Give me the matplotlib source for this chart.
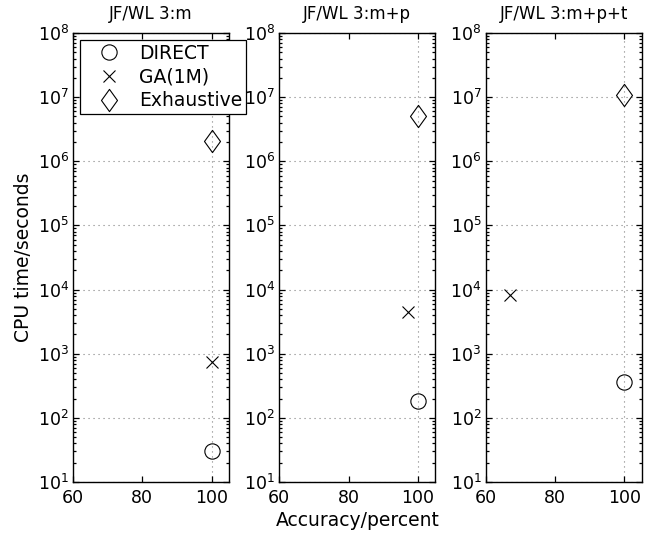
import numpy as np
import matplotlib
matplotlib.use('Agg')
import matplotlib.pyplot as plt
from matplotlib.path import Path
from matplotlib.ticker import NullFormatter, FixedLocator

plt.rcParams['font.family'] = ['DejaVu Sans']
plt.rcParams['mathtext.fontset'] = 'dejavusans'

# datos
titulos = ['JF/WL 3:m', 'JF/WL 3:m+p', 'JF/WL 3:m+p+t']
metodos = ['DIRECT', 'GA(1M)', 'Exhaustive']
precision = {
    'DIRECT':     [100, 100, 100],
    'GA(1M)':     [100, 97, 67],
    'Exhaustive': [100, 100, 100],
}
tiempo = {
    'DIRECT':     [30, 181, 360],
    'GA(1M)':     [730, 4400, 8100],
    'Exhaustive': [2.1e6, 5.0e6, 1.08e7],
}

# rombo alto estilo MATLAB
rombo = Path([(0, 1), (0.72, 0), (0, -1), (-0.72, 0), (0, 1)],
             [Path.MOVETO, Path.LINETO, Path.LINETO, Path.LINETO, Path.CLOSEPOLY])
estilos = {
    'DIRECT':     dict(marker='o', markersize=11),
    'GA(1M)':     dict(marker='x', markersize=8.5),
    'Exhaustive': dict(marker=rombo, markersize=16),
}

W, H = 663, 536
fig = plt.figure(figsize=(W / 100, H / 100), dpi=100)

izq = [73, 279.3, 485.7]
ancho = 156
arriba, abajo = 33, 482

decadas = [10.0 ** k for k in range(1, 9)]
menores = [d * s for d in decadas[:-1] for s in range(2, 10)]

ejes = []
for i, tit in enumerate(titulos):
    ax = fig.add_axes([izq[i] / W, 1 - abajo / H, ancho / W, (abajo - arriba) / H])
    ejes.append(ax)
    for m in metodos:
        ax.semilogy([precision[m][i]], [tiempo[m][i]], linestyle='none',
                    color='black', markerfacecolor='none', markeredgewidth=0.8,
                    label=m, **estilos[m])
    ax.set_xlim(60, 105)
    ax.set_ylim(1e1, 1e8)
    ax.set_xticks([60, 80, 100])
    ax.set_yticks(decadas)
    ax.yaxis.set_minor_locator(FixedLocator(menores))
    ax.yaxis.set_minor_formatter(NullFormatter())
    ax.grid(True, which='major', linestyle=(0, (1, 3.5)), color='0.5', linewidth=0.8)
    ax.tick_params(which='both', direction='in', top=True, right=True,
                   bottom=True, left=True, labelsize=12.5, width=0.9,
                   color='black')
    ax.tick_params(which='major', length=4, pad=5)
    ax.tick_params(which='minor', length=2.5)
    ax.tick_params(axis='y', pad=3)
    # solo la linea vertical en 100
    for t, g in zip(ax.get_xticks(), ax.xaxis.get_gridlines()):
        if t != 100:
            g.set_visible(False)
    for s in ax.spines.values():
        s.set_linewidth(1.0)
    ax.set_title(tit, fontsize=12, pad=10)

ejes[0].set_ylabel('CPU time/seconds', fontsize=13.5, labelpad=3)
ejes[1].set_xlabel('Accuracy/percent', fontsize=13.5, labelpad=3)

ejes[0].legend(loc='upper left', bbox_to_anchor=(80 / W, 1 - 40 / H),
               bbox_transform=fig.transFigure, borderaxespad=0, numpoints=1,
               fontsize=13.5, fancybox=False, edgecolor='black', framealpha=1,
               borderpad=0.2, handlelength=2.7, handletextpad=0.25,
               labelspacing=0.25).get_frame().set_linewidth(0.9)

plt.savefig('out.png', dpi=100)
